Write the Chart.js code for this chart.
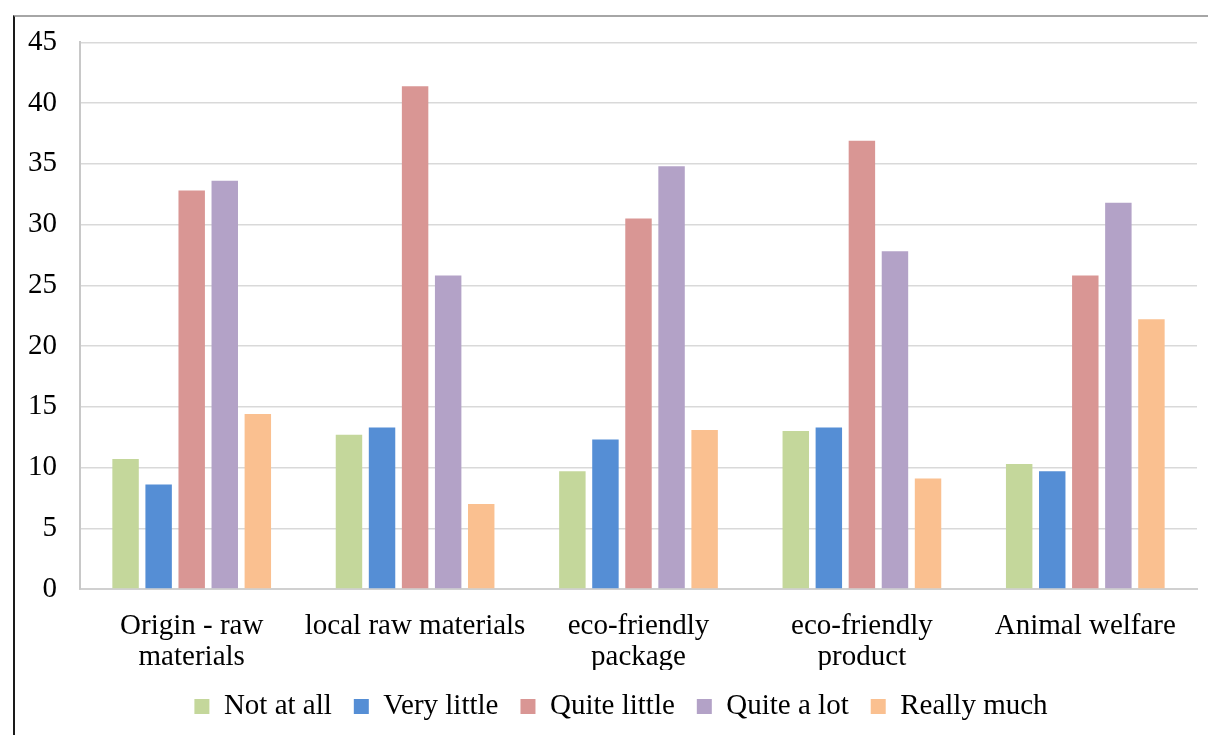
<!DOCTYPE html>
<html>
<head>
<meta charset="utf-8">
<script src="https://cdn.jsdelivr.net/npm/chart.js@4/dist/chart.umd.min.js"></script>
<style>
  html, body { margin: 0; padding: 0; background: #fff; }
  body { width: 1208px; height: 735px; overflow: hidden; position: relative; }
  #frame {
    position: absolute; left: 13px; top: 15px; right: 0; bottom: 0;
    border-top: 2px solid #a6a6a6; border-left: 2px solid #1a1a1a;
  }
  #wrap { position: absolute; left: 15px; top: 2px; width: 1193px; height: 733px; }
</style>
</head>
<body>
<div id="frame"></div>
<div id="wrap"><canvas id="chart"></canvas></div>
<script>
const categories = [
  ['Origin - raw', 'materials'],
  'local raw materials',
  ['eco-friendly', 'package'],
  ['eco-friendly', 'product'],
  'Animal welfare'
];
const seriesNames = ['Not at all', 'Very little', 'Quite little', 'Quite a lot', 'Really much'];
const notAtAll    = [10.7, 12.7, 9.7, 13.0, 10.3];
const veryLittle  = [8.6, 13.3, 12.3, 13.3, 9.7];
const quiteLittle = [32.8, 41.4, 30.5, 36.9, 25.8];
const quiteALot   = [33.6, 25.8, 34.8, 27.8, 31.8];
const reallyMuch  = [14.4, 7.0, 13.1, 9.1, 22.2];
const colors = ['#c4d79b', '#558ed5', '#d99694', '#b3a2c7', '#fac090'];
const yTicks = [0, 5, 10, 15, 20, 25, 30, 35, 40, 45];

const family = '"Liberation Serif", "Times New Roman", serif';
const values = [notAtAll, veryLittle, quiteLittle, quiteALot, reallyMuch];

// nudges the bottom legend row sideways after layout
const legendShift = {
  id: 'legendShift',
  afterLayout(chart, args, opts) {
    const lg = chart.legend;
    if (lg) { lg.left += opts.dx; lg.right += opts.dx; }
  }
};

new Chart(document.getElementById('chart'), {
  type: 'bar',
  data: {
    labels: categories,
    datasets: seriesNames.map((name, i) => ({
      label: name,
      data: values[i],
      backgroundColor: colors[i],
      borderWidth: 0,
      categoryPercentage: 0.74,
      barPercentage: 0.8
    }))
  },
  plugins: [legendShift],
  options: {
    responsive: true,
    maintainAspectRatio: false,
    animation: false,
    layout: { padding: { left: 0, right: 11, top: 8, bottom: 4 } },
    plugins: {
      tooltip: { enabled: false },
      legendShift: { dx: 15 },
      legend: {
        position: 'bottom',
        labels: {
          font: { family: family, size: 29 },
          color: '#000',
          boxWidth: 15,
          boxHeight: 15,
          padding: 22
        }
      }
    },
    scales: {
      x: {
        grid: { display: false, drawTicks: false },
        border: { display: true, color: '#d0d0d0', width: 2 },
        ticks: { font: { family: family, size: 29, lineHeight: 1.1 }, color: '#000', padding: 21, maxRotation: 0, autoSkip: false },
        afterFit: (axis) => { axis.height = 81; }
      },
      y: {
        min: 0, max: 45,
        afterBuildTicks: (axis) => { axis.ticks = yTicks.map(v => ({ value: v })); },
        grid: { color: '#d9d9d9', lineWidth: 1.5, drawTicks: false },
        border: { display: true, color: '#c8c8c8', width: 2 },
        ticks: { font: { family: family, size: 29 }, color: '#000', padding: 23 },
        afterFit: (axis) => { axis.width = 65; }
      }
    }
  }
});
</script>
</body>
</html>
